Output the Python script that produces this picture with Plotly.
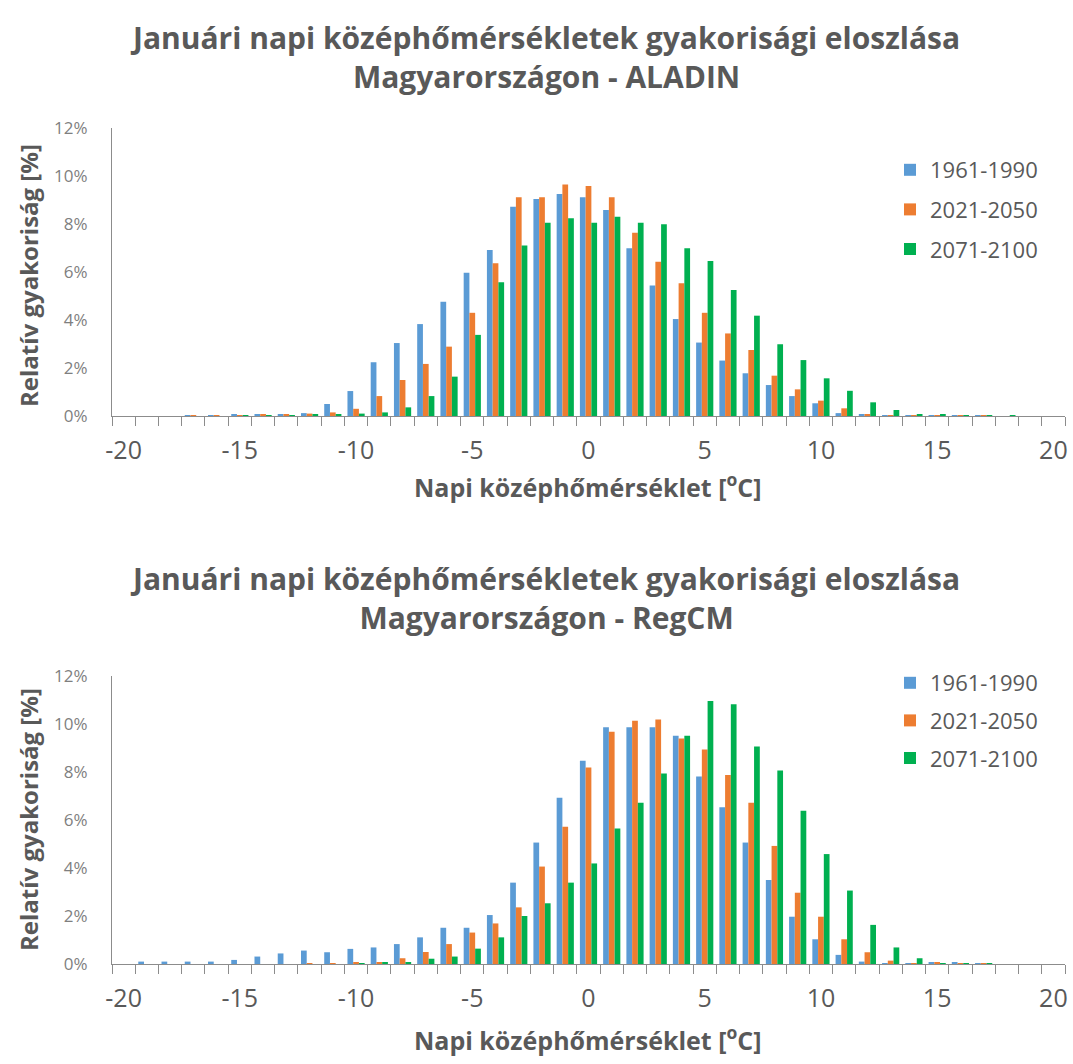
import plotly.graph_objects as go

# Daily mean temperature bins (°C)
temps = list(range(-20, 21))
tick_vals = [-20, -15, -10, -5, 0, 5, 10, 15, 20]
tick_text = ["-20", "-15", "-10", "-5", "0", "5", "10", "15", "20"]
periods = ["1961-1990", "2021-2050", "2071-2100"]
colors = ["#5B9BD5", "#ED7D31", "#00B050"]

# ALADIN relative frequencies [%]
aladin_1961_1990 = [0, 0, 0, 0.03, 0.03, 0.05, 0.05, 0.06, 0.12, 0.50,
                    1.04, 2.24, 3.04, 3.83, 4.76, 5.97, 6.92, 8.72, 9.04, 9.25,
                    9.11, 8.58, 6.99, 5.44, 4.04, 3.06, 2.31, 1.78, 1.29, 0.83,
                    0.53, 0.12, 0.05, 0.03, 0.04, 0.03, 0.02, 0.02, 0, 0, 0]
aladin_2021_2050 = [0, 0, 0, 0.02, 0.02, 0.04, 0.05, 0.06, 0.10, 0.15,
                    0.30, 0.83, 1.50, 2.17, 2.89, 4.30, 6.36, 9.11, 9.11, 9.65,
                    9.58, 9.11, 7.64, 6.43, 5.53, 4.30, 3.44, 2.75, 1.68, 1.11,
                    0.64, 0.32, 0.08, 0.04, 0.04, 0.04, 0.03, 0.02, 0, 0, 0]
aladin_2071_2100 = [0, 0, 0, 0, 0, 0.02, 0.03, 0.04, 0.06, 0.05,
                    0.10, 0.15, 0.36, 0.83, 1.64, 3.38, 5.57, 7.10, 8.05, 8.24,
                    8.05, 8.30, 8.05, 7.99, 6.99, 6.46, 5.25, 4.18, 2.99, 2.33,
                    1.57, 1.05, 0.57, 0.25, 0.07, 0.05, 0.04, 0.03, 0.01, 0, 0]

# RegCM relative frequencies [%]
regcm_1961_1990 = [0, 0.10, 0.10, 0.10, 0.10, 0.17, 0.31, 0.44, 0.56, 0.49,
                   0.63, 0.69, 0.83, 1.11, 1.51, 1.51, 2.04, 3.39, 5.06, 6.93,
                   8.47, 9.86, 9.86, 9.86, 9.51, 7.81, 6.53, 5.06, 3.50, 1.97,
                   1.03, 0.38, 0.10, 0.03, 0.03, 0.05, 0.05, 0.02, 0, 0, 0]
regcm_2021_2050 = [0, 0, 0, 0, 0, 0, 0, 0, 0.03, 0.04,
                   0.05, 0.08, 0.24, 0.50, 0.83, 1.31, 1.69, 2.36, 4.06, 5.72,
                   8.19, 9.68, 10.14, 10.19, 9.40, 8.94, 7.88, 6.72, 4.92, 2.97,
                   1.97, 1.03, 0.49, 0.14, 0.04, 0.05, 0.04, 0.02, 0, 0, 0]
regcm_2071_2100 = [0, 0, 0, 0, 0, 0, 0, 0, 0, 0,
                   0.03, 0.08, 0.08, 0.22, 0.31, 0.64, 1.11, 2.00, 2.53, 3.39,
                   4.19, 5.65, 6.72, 7.94, 9.51, 10.96, 10.82, 9.06, 8.06, 6.39,
                   4.58, 3.06, 1.63, 0.69, 0.24, 0.04, 0.03, 0.03, 0, 0, 0]

title_aladin = "Januári napi középhőmérsékletek gyakorisági eloszlása<br>Magyarországon - ALADIN"
title_regcm = "Januári napi középhőmérsékletek gyakorisági eloszlása<br>Magyarországon - RegCM"
y_title = "Relatív gyakoriság [%]"
x_title = "Napi középhőmérséklet [<sup>o</sup>C]"

W, H = 1073, 1064
FONT = "Open Sans"
TXT = "#595959"
AX = "#8C8C8C"


def px_x(p):
    return p / W


def px_y(p):
    return 1 - p / H


fig = go.Figure()

panels = [
    ([aladin_1961_1990, aladin_2021_2050, aladin_2071_2100], "x", "y", "legend"),
    ([regcm_1961_1990, regcm_2021_2050, regcm_2071_2100], "x2", "y2", "legend2"),
]
for series, xa, ya, leg in panels:
    for name, vals, col in zip(periods, series, colors):
        fig.add_trace(go.Bar(
            x=temps, y=vals, name=name, marker=dict(color=col, line=dict(width=0)),
            xaxis=xa, yaxis=ya, legend=leg, legendgroup=leg + name,
            hoverinfo="skip",
        ))

x_dom = [px_x(112), px_x(1065)]
common_x = dict(
    domain=x_dom, range=[-20.5, 20.5], tickmode="array", tickvals=tick_vals,
    ticktext=tick_text, ticks="", showline=True, linecolor=AX, linewidth=1,
    showgrid=False, zeroline=False, tickfont=dict(family=FONT, size=25, color=TXT),
    ticklabelstandoff=12, automargin=False,
    minor=dict(tick0=-20.5, dtick=1, ticks="outside", ticklen=9, tickcolor=AX,
               tickwidth=1, showgrid=False),
)
common_y = dict(
    range=[0, 12], dtick=2, ticksuffix="%", showline=True, linecolor=AX,
    linewidth=1, showgrid=False, zeroline=False, ticks="", automargin=False,
    tickfont=dict(family=FONT, size=17, color="#7F7F7F"), ticklabelstandoff=20,
)

fig.update_layout(
    width=W, height=H, margin=dict(l=0, r=0, t=0, b=0, pad=0, autoexpand=False),
    paper_bgcolor="white", plot_bgcolor="white",
    barmode="group", bargap=0.26, bargroupgap=0,
    xaxis=dict(**common_x, anchor="y"),
    yaxis=dict(**common_y, domain=[px_y(416), px_y(128)], anchor="x"),
    xaxis2=dict(**common_x, anchor="y2"),
    yaxis2=dict(**common_y, domain=[px_y(964), px_y(676)], anchor="x2"),
    legend=dict(x=px_x(890), y=px_y(149), xanchor="left", yanchor="top",
                font=dict(family=FONT, size=22, color=TXT), tracegroupgap=8,
                itemwidth=30, bgcolor="rgba(0,0,0,0)"),
    legend2=dict(x=px_x(890), y=px_y(662), xanchor="left", yanchor="top",
                 font=dict(family=FONT, size=22, color=TXT), tracegroupgap=6,
                 itemwidth=30, bgcolor="rgba(0,0,0,0)"),
    showlegend=True,
)

annotations = []
for title, ty, ytc, xty in [(title_aladin, 57, 276, 485), (title_regcm, 598, 820, 1038)]:
    annotations.append(dict(
        text="<b>" + title + "</b>", x=px_x(545), y=px_y(ty), xref="paper", yref="paper",
        showarrow=False, xanchor="center", yanchor="middle",
        font=dict(family=FONT, size=30, color=TXT),
    ))
    annotations.append(dict(
        text="<b>" + y_title + "</b>", x=px_x(28), y=px_y(ytc), xref="paper", yref="paper",
        showarrow=False, xanchor="center", yanchor="middle", textangle=-90,
        font=dict(family=FONT, size=24, color=TXT),
    ))
    annotations.append(dict(
        text="<b>" + x_title + "</b>", x=px_x(588), y=px_y(xty), xref="paper", yref="paper",
        showarrow=False, xanchor="center", yanchor="middle",
        font=dict(family=FONT, size=25, color=TXT),
    ))
fig.update_layout(annotations=annotations)

fig.write_html("out.html")
